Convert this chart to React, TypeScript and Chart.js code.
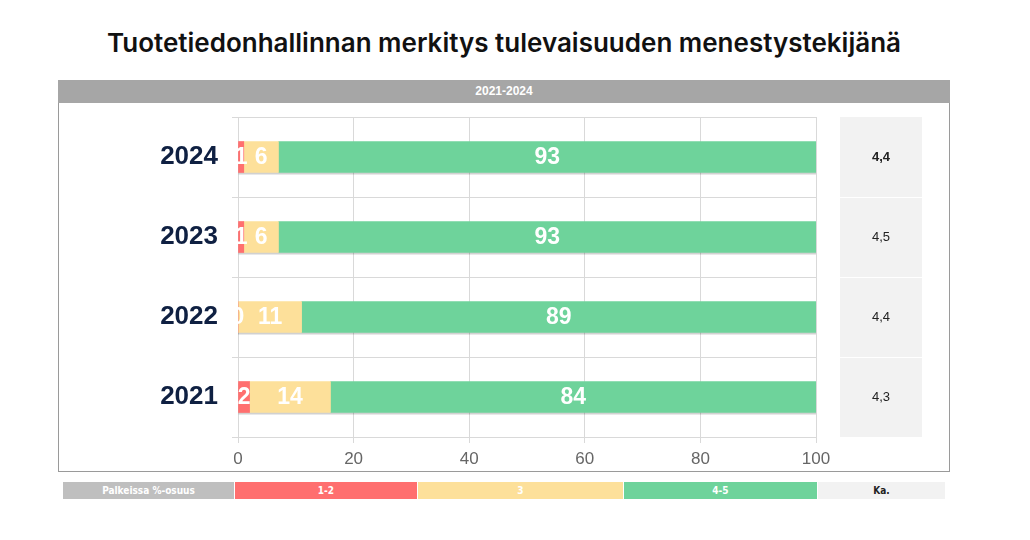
import { useEffect, useRef } from "react";
import { Chart, registerables, Plugin } from "chart.js";

Chart.register(...registerables);

// survey years, top to bottom
const years = ["2024", "2023", "2022", "2021"];
// share of answers (%) per group
const share12 = [1, 1, 0, 2];
const share3 = [6, 6, 11, 14];
const share45 = [93, 93, 89, 84];
// averages shown in the right-hand column
const averages = [4.4, 4.5, 4.4, 4.3];
const boldAverage = 0;

const xMax = 100;
const xStep = 20;

const legendItems = [
  { label: "Palkeissa %-osuus", color: "#bfbfbf", text: "#ffffff", width: 172 },
  { label: "1-2", color: "#ff6f6f", text: "#ffffff", width: 183 },
  { label: "3", color: "#fde09a", text: "#ffffff", width: 206 },
  { label: "4-5", color: "#6ed39b", text: "#ffffff", width: 194 },
  { label: "Ka.", color: "#f2f2f2", text: "#222222", width: 128 },
];

const fmt = (v: number) => v.toFixed(1).replace(".", ",");

// one soft shadow under each whole stacked row
const barShadow: Plugin<"bar"> = {
  id: "barShadow",
  beforeDatasetsDraw(chart) {
    const ctx = chart.ctx;
    ctx.save();
    ctx.fillStyle = "rgba(0,0,0,0.18)";
    years.forEach((_, i) => {
      let x0 = Infinity;
      let x1 = -Infinity;
      let yc = 0;
      let h = 0;
      chart.data.datasets.forEach((_, di) => {
        const el: any = chart.getDatasetMeta(di).data[i];
        x0 = Math.min(x0, el.base, el.x);
        x1 = Math.max(x1, el.base, el.x);
        yc = el.y;
        h = el.height;
      });
      ctx.fillRect(x0, yc - h / 2 + 2, x1 - x0, h);
    });
    ctx.restore();
  },
};

const segmentLabels: Plugin<"bar"> = {
  id: "segmentLabels",
  afterDatasetsDraw(chart) {
    const { ctx, chartArea } = chart;
    ctx.save();
    ctx.beginPath();
    ctx.rect(chartArea.left, chartArea.top - 5, chartArea.right - chartArea.left, chartArea.bottom - chartArea.top + 10);
    ctx.clip();
    ctx.fillStyle = "#ffffff";
    ctx.font = "bold 23px 'Liberation Sans', Arial, sans-serif";
    ctx.textAlign = "center";
    ctx.textBaseline = "middle";
    chart.data.datasets.forEach((ds, di) => {
      const meta = chart.getDatasetMeta(di);
      meta.data.forEach((el: any, i) => {
        const v = ds.data[i] as number;
        const cx = (el.x + el.base) / 2;
        ctx.fillText(String(v), cx, el.y + 1);
      });
    });
    ctx.restore();
  },
};

const averagePanel: Plugin<"bar"> = {
  id: "averagePanel",
  afterDraw(chart) {
    const { ctx, chartArea } = chart;
    const y = chart.scales.y;
    const n = years.length;
    const step = (chartArea.bottom - chartArea.top) / n;
    const left = chartArea.right + 24;
    const w = 82;
    ctx.save();
    years.forEach((_, i) => {
      const cy = y.getPixelForValue(i);
      const top = cy - step / 2;
      ctx.fillStyle = "#f2f2f2";
      ctx.fillRect(left, top + (i === 0 ? 0 : 1), w, step - (i === 0 ? 0 : 1));
      ctx.fillStyle = "#222222";
      ctx.font = `${i === boldAverage ? "bold " : ""}13px 'Liberation Sans', Arial, sans-serif`;
      ctx.textAlign = "center";
      ctx.textBaseline = "middle";
      ctx.fillText(fmt(averages[i]), left + w / 2, cy);
    });
    ctx.restore();
  },
};

function ShareChart() {
  const canvasRef = useRef<HTMLCanvasElement>(null);
  const chartRef = useRef<Chart<"bar"> | null>(null);

  useEffect(() => {
    if (!canvasRef.current) return;
    chartRef.current?.destroy();
    chartRef.current = new Chart(canvasRef.current, {
      type: "bar",
      data: {
        labels: years,
        datasets: [
          { label: "1-2", data: share12, backgroundColor: "#ff6f6f", barThickness: 31 },
          { label: "3", data: share3, backgroundColor: "#fde09a", barThickness: 31 },
          { label: "4-5", data: share45, backgroundColor: "#6ed39b", barThickness: 31 },
        ],
      },
      options: {
        indexAxis: "y",
        animation: false,
        responsive: true,
        maintainAspectRatio: false,
        layout: { padding: { top: 13, right: 133, left: 0, bottom: 0 } },
        plugins: {
          legend: { display: false },
          tooltip: { enabled: false },
        },
        scales: {
          x: {
            stacked: true,
            min: 0,
            max: xMax,
            border: { display: false },
            grid: { color: "#d9d9d9", lineWidth: 1, tickLength: 6 },
            ticks: {
              stepSize: xStep,
              color: "#666666",
              padding: 6,
              font: { size: 17, family: "'Liberation Sans', Arial, sans-serif" },
            },
            afterFit(s: any) {
              s.height = 34;
              s.paddingLeft = 0;
              s.paddingRight = 0;
            },
          },
          y: {
            stacked: true,
            border: { display: false },
            grid: { color: "#d9d9d9", lineWidth: 1, tickLength: 6, offset: true },
            ticks: {
              color: "#0f2042",
              padding: 14,
              font: { size: 26, weight: "bold", family: "'Liberation Sans', Arial, sans-serif" },
            },
            afterFit(s: any) {
              s.width = 179;
              s.paddingTop = 0;
              s.paddingBottom = 0;
            },
          },
        },
      },
      plugins: [barShadow, segmentLabels, averagePanel],
    });
    return () => {
      chartRef.current?.destroy();
    };
  }, []);

  return (
    <div style={{ position: "absolute", left: 59, top: 104, width: 890, height: 367 }}>
      <canvas ref={canvasRef} />
    </div>
  );
}

export default function App() {
  useEffect(() => {
    document.body.style.margin = "0";
  }, []);

  return (
    <div
      style={{
        position: "relative",
        width: 1030,
        height: 540,
        background: "#ffffff",
        fontFamily: "'Liberation Sans', Arial, sans-serif",
        overflow: "hidden",
      }}
    >
      <div
        style={{
          position: "absolute",
          left: 0,
          width: 1008,
          top: 27,
          textAlign: "center",
          fontFamily: "Inter, 'Noto Sans', sans-serif",
          fontWeight: 600,
          fontSize: 26,
          color: "#111111",
        }}
      >
        Tuotetiedonhallinnan merkitys tulevaisuuden menestystekijänä
      </div>
      <div
        style={{
          position: "absolute",
          left: 58,
          top: 80,
          width: 890,
          height: 390,
          border: "1px solid #9a9a9a",
        }}
      />
      <div
        style={{
          position: "absolute",
          left: 58,
          top: 80,
          width: 892,
          height: 23,
          background: "#a6a6a6",
          color: "#ffffff",
          fontWeight: "bold",
          fontSize: 12,
          lineHeight: "23px",
          textAlign: "center",
        }}
      >
        2021-2024
      </div>
      <ShareChart />
      <div style={{ position: "absolute", left: 63, top: 482, display: "flex", height: 17 }}>
        {legendItems.map((it) => (
          <div
            key={it.label}
            style={{
              width: it.width,
              background: it.color,
              color: it.text,
              fontFamily: "'Liberation Sans Narrow', 'DejaVu Sans Condensed', sans-serif",
              fontWeight: "bold",
              fontSize: 10,
              lineHeight: "17px",
              textAlign: "center",
              borderRight: "1px solid #ffffff",
              boxSizing: "border-box",
            }}
          >
            {it.label}
          </div>
        ))}
      </div>
    </div>
  );
}
